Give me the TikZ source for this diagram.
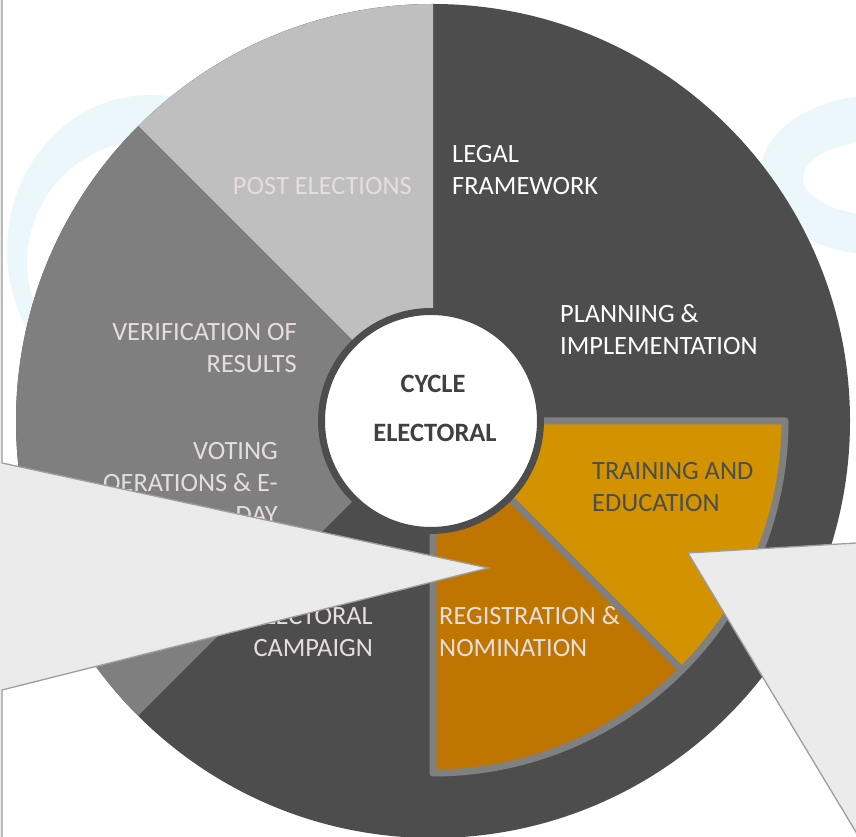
\documentclass[tikz,border=0pt]{standalone}
\usepackage{fontspec}
\setmainfont{Carlito}
\begin{document}
\begin{tikzpicture}[x=1pt,y=1pt]
\definecolor{darkseg}{RGB}{77,77,77}
\definecolor{lightseg}{RGB}{191,191,191}
\definecolor{midseg}{RGB}{127,127,127}
\definecolor{trainc}{RGB}{211,146,0}
\definecolor{regc}{RGB}{190,118,0}
\definecolor{segborder}{RGB}{128,128,128}
\definecolor{callfill}{RGB}{235,235,235}
\definecolor{callline}{RGB}{158,158,158}
\definecolor{wmblue}{RGB}{236,247,252}
\definecolor{pinktext}{RGB}{230,222,222}
\definecolor{hubtext}{RGB}{64,64,64}
\tikzset{
  lbl/.style={font=\fontsize{26.4}{32}\selectfont, inner sep=0pt},
  hublbl/.style={font=\bfseries\fontsize{26.5}{30}\selectfont, inner sep=0pt, text=hubtext},
  orangeseg/.style={draw=segborder, line width=7pt, line join=round},
  callout/.style={fill=callfill, draw=callline, line width=1.3pt, line join=miter}
}
\useasboundingbox (0,0) rectangle (856,837);
\begin{scope}
\clip (0,0) rectangle (856,837);
\fill[white] (0,0) rectangle (856,837);
% faint watermark shapes
\fill[wmblue, even odd rule] (150,587) ellipse[x radius=143, y radius=155] (150,575) ellipse[x radius=123, y radius=122];
\fill[wmblue, even odd rule] (880,662) ellipse[x radius=120, y radius=80] (885,659) ellipse[x radius=82, y radius=38];
% pie
\coordinate (C) at (433,416);
\fill[darkseg] (C) circle[radius=417];
\fill[lightseg] (C) -- ++(90:417) arc[start angle=90, end angle=135, radius=417] -- cycle;
\fill[midseg] (C) -- ++(135:417) arc[start angle=135, end angle=225, radius=417] -- cycle;
\filldraw[orangeseg, fill=regc] (C) -- ++(270:352) arc[start angle=270, end angle=315, radius=352] -- cycle;
\filldraw[orangeseg, fill=trainc] (C) -- ++(315:352) arc[start angle=315, end angle=360, radius=352] -- cycle;
% hub
\node[circle, fill=white, draw=darkseg, line width=7pt, minimum size=219pt, inner sep=0pt] (hub) at (431,416) {};
\node[hublbl, anchor=base] (hubA) at (433,444) {CYCLE};
\node[hublbl, anchor=base] (hubB) at (435,395) {ELECTORAL};
% labels
\node[lbl, anchor=base east, text=pinktext] (post) at (412,642) {POST ELECTIONS};
\node[lbl, anchor=base west, text=white] (legalA) at (452,674) {LEGAL};
\node[lbl, anchor=base west, text=white] (legalB) at (452,642) {FRAMEWORK};
\node[lbl, anchor=base west, text=white] (planA) at (560,514) {PLANNING \&};
\node[lbl, anchor=base west, text=white] (planB) at (560,482) {IMPLEMENTATION};
\node[lbl, anchor=base east, text=pinktext] (verA) at (297,496) {VERIFICATION OF};
\node[lbl, anchor=base east, text=pinktext] (verB) at (297,464) {RESULTS};
\node[lbl, anchor=base east, text=pinktext] (votA) at (278,377) {VOTING};
\node[lbl, anchor=base east, text=pinktext] (votB) at (278,345) {OERATIONS \& E-};
\node[lbl, anchor=base east, text=pinktext] (votC) at (278,313) {DAY};
\node[lbl, anchor=base east, text=pinktext] (campA) at (373,212) {ELECTORAL};
\node[lbl, anchor=base east, text=pinktext] (campB) at (373,180) {CAMPAIGN};
\node[lbl, anchor=base west, text=pinktext] (regA) at (439,212) {REGISTRATION \&};
\node[lbl, anchor=base west, text=pinktext] (regB) at (439,180) {NOMINATION};
\node[lbl, anchor=base west, text=darkseg] (trA) at (592,357) {TRAINING AND};
\node[lbl, anchor=base west, text=darkseg] (trB) at (592,325) {EDUCATION};
% callouts
\draw[callout] (-20,847) -- (2,847) -- (2,374) -- (488,269) -- (2,147) -- (2,-10) -- (-20,-10) -- cycle;
\draw[callout] (688,284) -- (900,296.6) -- (900,-25) -- (874,-25) -- cycle;
\end{scope}
\end{tikzpicture}
\end{document}
